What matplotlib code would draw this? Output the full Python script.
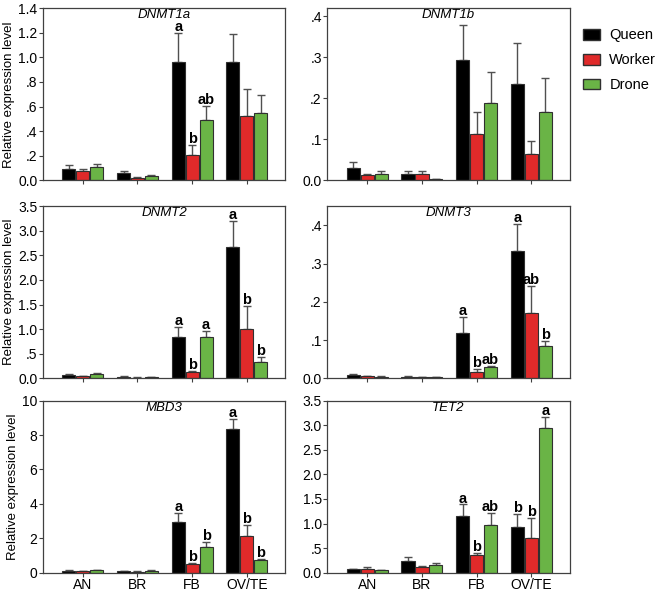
import matplotlib
matplotlib.use("Agg")
import matplotlib.pyplot as plt
import numpy as np
from matplotlib.ticker import FuncFormatter
from matplotlib.patches import Patch

plt.rcParams["font.family"] = ["Liberation Sans", "DejaVu Sans"]

tissues = ["AN", "BR", "FB", "OV/TE"]
castes = ["Queen", "Worker", "Drone"]
colors = ["#000000", "#e02a2a", "#6ab446"]

# mean values per gene: rows = caste (Queen, Worker, Drone), cols = tissue
dnmt1a_mean = [[0.095, 0.060, 0.960, 0.962], [0.076, 0.022, 0.209, 0.519], [0.109, 0.035, 0.489, 0.546]]
dnmt1a_err = [[0.027, 0.019, 0.240, 0.226], [0.016, 0.002, 0.082, 0.220], [0.027, 0.005, 0.117, 0.147]]
dnmt1a_sig = [["", "", "a", ""], ["", "", "b", ""], ["", "", "ab", ""]]

dnmt1b_mean = [[0.031, 0.016, 0.294, 0.235], [0.012, 0.016, 0.112, 0.063], [0.016, 0.002, 0.189, 0.167]]
dnmt1b_err = [[0.014, 0.007, 0.085, 0.100], [0.004, 0.007, 0.055, 0.033], [0.007, 0.0, 0.075, 0.083]]
dnmt1b_sig = [["", "", "", ""], ["", "", "", ""], ["", "", "", ""]]

dnmt2_mean = [[0.068, 0.034, 0.839, 2.68], [0.048, 0.014, 0.136, 1.003], [0.089, 0.020, 0.832, 0.334]]
dnmt2_err = [[0.012, 0.006, 0.205, 0.526], [0.006, 0.003, 0.021, 0.470], [0.013, 0.004, 0.137, 0.096]]
dnmt2_sig = [["", "", "a", "a"], ["", "", "b", "b"], ["", "", "a", "b"]]

dnmt3_mean = [[0.0096, 0.0044, 0.119, 0.332], [0.005, 0.002, 0.0167, 0.171], [0.0044, 0.002, 0.029, 0.085]]
dnmt3_err = [[0.002, 0.001, 0.042, 0.071], [0.001, 0.0005, 0.007, 0.071], [0.001, 0.0005, 0.004, 0.013]]
dnmt3_sig = [["", "", "a", "a"], ["", "", "b", "ab"], ["", "", "ab", "b"]]

mbd3_mean = [[0.116, 0.077, 2.93, 8.36], [0.10, 0.06, 0.50, 2.12], [0.135, 0.116, 1.49, 0.75]]
mbd3_err = [[0.02, 0.015, 0.54, 0.56], [0.02, 0.01, 0.08, 0.66], [0.03, 0.02, 0.32, 0.06]]
mbd3_sig = [["", "", "a", "a"], ["", "", "b", "b"], ["", "", "b", "b"]]

tet2_mean = [[0.068, 0.246, 1.162, 0.923], [0.082, 0.109, 0.362, 0.697], [0.048, 0.164, 0.977, 2.939]]
tet2_err = [[0.014, 0.075, 0.226, 0.266], [0.027, 0.021, 0.041, 0.424], [0.008, 0.027, 0.233, 0.226]]
tet2_sig = [["", "", "a", "b"], ["", "", "b", "b"], ["", "", "ab", "a"]]

panels = [
    ("DNMT1a", dnmt1a_mean, dnmt1a_err, dnmt1a_sig, 1.4, np.arange(0, 1.41, 0.2)),
    ("DNMT1b", dnmt1b_mean, dnmt1b_err, dnmt1b_sig, 0.42, np.arange(0, 0.41, 0.1)),
    ("DNMT2", dnmt2_mean, dnmt2_err, dnmt2_sig, 3.5, np.arange(0, 3.51, 0.5)),
    ("DNMT3", dnmt3_mean, dnmt3_err, dnmt3_sig, 0.45, np.arange(0, 0.41, 0.1)),
    ("MBD3", mbd3_mean, mbd3_err, mbd3_sig, 10, np.arange(0, 10.1, 2)),
    ("TET2", tet2_mean, tet2_err, tet2_sig, 3.5, np.arange(0, 3.51, 0.5)),
]


def fmt_dec(v, pos):
    if abs(v) < 1e-9:
        return "0.0"
    s = f"{v:.1f}"
    if s.startswith("0."):
        s = s[1:]
    return s


def fmt_int(v, pos):
    return str(int(round(v)))


fig = plt.figure(figsize=(6.6, 5.91), dpi=100)
lefts = [0.065, 0.496]
bottoms = [0.695, 0.360, 0.031]
w, h = 0.367, 0.291
x = np.arange(len(tissues))
bw = 0.24
offs = [-0.255, 0.0, 0.255]
spine_col = "#404040"

for i, (name, mean, err, sig, ymax, ticks) in enumerate(panels):
    r, c = divmod(i, 2)
    ax = fig.add_axes([lefts[c], bottoms[r], w, h])
    for k in range(3):
        m = np.array(mean[k])
        e = np.array(err[k])
        ax.bar(x + offs[k], m, bw, color=colors[k], edgecolor="#303030", linewidth=0.8, zorder=2)
        ax.errorbar(x + offs[k], m, yerr=[np.zeros_like(e), e], fmt="none",
                    ecolor="#505050", elinewidth=1, capsize=3, capthick=1, zorder=1)
        for j in range(len(tissues)):
            if sig[k][j]:
                ax.text(x[j] + offs[k], m[j] + e[j] - ymax * 0.006, sig[k][j],
                        ha="center", va="bottom", fontsize=10.5, fontweight="bold")
    ax.set_xlim(-0.73, 3.7)
    ax.set_ylim(0, ymax)
    ax.set_yticks(ticks)
    ax.yaxis.set_major_formatter(FuncFormatter(fmt_int if name == "MBD3" else fmt_dec))
    ax.set_xticks(x)
    if r == 2:
        ax.set_xticklabels(tissues, fontsize=10)
    else:
        ax.set_xticklabels([])
    ax.tick_params(axis="y", labelsize=10, direction="out", length=3, color=spine_col, pad=1)
    ax.tick_params(axis="x", direction="out", length=3, color=spine_col, pad=1)
    for s in ax.spines.values():
        s.set_color(spine_col)
        s.set_linewidth(0.9)
    ax.text(0.5, 0.995, name, transform=ax.transAxes, ha="center", va="top",
            fontsize=9.5, style="italic")
    if c == 0:
        ax.set_ylabel("Relative expression level", fontsize=9.5, labelpad=2)

handles = [Patch(facecolor=colors[k], edgecolor="#303030", label=castes[k]) for k in range(3)]
fig.legend(handles=handles, loc="upper left", bbox_to_anchor=(0.883, 0.952), frameon=False,
           fontsize=10.5, handlelength=1.17, handleheight=0.75, labelspacing=0.75,
           handletextpad=0.65, borderpad=0, borderaxespad=0)

fig.savefig("out.png", dpi=100)
